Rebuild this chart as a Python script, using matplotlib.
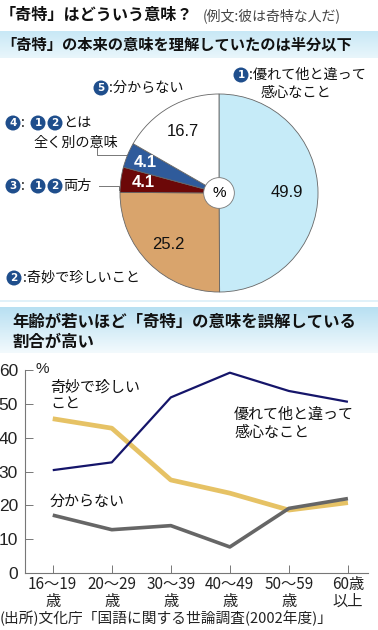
import matplotlib
matplotlib.use("Agg")
import matplotlib.pyplot as plt
import numpy as np
from matplotlib.colors import to_rgb
from matplotlib.patches import Circle

plt.rcParams['font.family'] = ['Noto Sans CJK JP', 'DejaVu Sans']

# pie data
pie_values = [49.9, 25.2, 4.1, 4.1, 16.7]
pie_colors = ['#c6ebf8', '#d9a46c', '#6c0808', '#2f5b9b', '#ffffff']
pie_value_colors = ['#111111', '#111111', '#ffffff', '#ffffff', '#111111']
pie_label_r = [0.69, 0.73, 0.77, 0.81, 0.72]

# line data
ages = ['16〜19\n歳', '20〜29\n歳', '30〜39\n歳', '40〜49\n歳', '50〜59\n歳', '60歳\n以上']
excellent = [30.4, 32.7, 51.9, 59.2, 53.8, 50.6]   # 優れて他と違って感心なこと
strange = [45.6, 42.8, 27.5, 23.6, 18.6, 20.8]     # 奇妙で珍しいこと
unknown = [17.1, 12.8, 14.0, 7.7, 19.1, 22.0]      # 分からない

W, H = 378, 630
fig = plt.figure(figsize=(W / 100, H / 100), dpi=100)

# background axes in pixel coordinates (y down)
bg = fig.add_axes([0, 0, 1, 1], zorder=0)
bg.set_xlim(0, W)
bg.set_ylim(H, 0)
bg.axis('off')


def band(y0, y1, c_top, c_bot):
    t = np.linspace(0, 1, 64)[:, None, None]
    img = (1 - t) * np.array(to_rgb(c_top)) + t * np.array(to_rgb(c_bot))
    img = np.repeat(img, 2, axis=1)
    bg.imshow(img, extent=(0, W, y1, y0), aspect='auto', zorder=0)


band(31, 58, '#c8e8f6', '#e9f6fb')
band(307, 353, '#b8e0f2', '#f3fafd')
bg.plot([0, W], [301, 301], color='#dceff8', lw=1.2, zorder=1)
bg.set_xlim(0, W)
bg.set_ylim(H, 0)

# titles
bg.text(0, 15, '「奇特」はどういう意味？', fontsize=11.6, fontweight='bold',
        color='#111111', va='center', ha='left')
bg.text(203, 16, '(例文:彼は奇特な人だ)', fontsize=10, color='#444444',
        va='center', ha='left')
bg.text(1, 45, '「奇特」の本来の意味を理解していたのは半分以下', fontsize=11,
        fontweight='bold', color='#111111', va='center', ha='left')
bg.text(12, 322, '年齢が若いほど「奇特」の意味を誤解している', fontsize=11.8,
        fontweight='bold', color='#111111', va='center', ha='left')
bg.text(12, 342, '割合が高い', fontsize=11.8,
        fontweight='bold', color='#111111', va='center', ha='left')
bg.text(0, 618, '(出所)文化庁「国語に関する世論調査(2002年度)」', fontsize=10.6,
        color='#222222', va='center', ha='left')


def badge(x, y, n):
    bg.text(x, y, str(n), fontsize=7.5, fontweight='bold', color='white',
            ha='center', va='center', family=['DejaVu Sans'],
            bbox=dict(boxstyle='circle,pad=0.24', fc='#1f4e8c', ec='none'))


lab_kw = dict(fontsize=10.2, color='#111111', va='center', ha='left')

# pie labels
badge(241, 75, 1)
bg.text(249, 75, ':優れて他と違って', **lab_kw)
bg.text(261, 93, '感心なこと', **lab_kw)
badge(101, 88, 5)
bg.text(109, 88, ':分からない', **lab_kw)
badge(13, 123, 4)
bg.text(21, 123, ':', **lab_kw)
badge(38, 123, 1)
badge(55, 123, 2)
bg.text(63, 123, 'とは', **lab_kw)
bg.text(33, 143, '全く別の意味', **lab_kw)
badge(13, 186, 3)
bg.text(21, 186, ':', **lab_kw)
badge(38, 186, 1)
badge(55, 186, 2)
bg.text(63, 186, '両方', **lab_kw)
badge(14, 278, 2)
bg.text(23, 278, ':奇妙で珍しいこと', **lab_kw)

# leader lines
bg.plot([97, 97, 128], [148, 155, 155], color='#777777', lw=0.7, zorder=1)
bg.plot([99, 119, 119], [186, 186, 190], color='#777777', lw=0.7, zorder=1)

# pie
pax = fig.add_axes([119 / W, 1 - 293 / H, 200 / W, 200 / H], zorder=2)
wedges, _ = pax.pie(pie_values, colors=pie_colors, startangle=90,
                    counterclock=False,
                    wedgeprops=dict(edgecolor='#666666', linewidth=0.6))
for w, v, c, r in zip(wedges, pie_values, pie_value_colors, pie_label_r):
    ang = np.deg2rad((w.theta1 + w.theta2) / 2)
    pax.text(r * np.cos(ang), r * np.sin(ang), f'{v:.1f}', color=c,
             fontsize=12, ha='center', va='center',
             fontweight='bold' if c == '#ffffff' else 'normal',
             family=['Liberation Sans', 'DejaVu Sans'])
pax.add_patch(Circle((0, 0), 0.155, fc='white', ec='#777777', lw=0.6, zorder=5))
pax.text(0, 0, '%', fontsize=11, ha='center', va='center', zorder=6,
         family=['Liberation Sans', 'DejaVu Sans'])
pax.set_xlim(-1.01, 1.01)
pax.set_ylim(-1.01, 1.01)

# line chart
lax = fig.add_axes([25 / W, 1 - 573 / H, 343 / W, 203 / H], zorder=2)
lax.patch.set_alpha(0)
x = np.arange(len(ages))
lax.plot(x, strange, color='#e6c265', lw=3.4, solid_capstyle='butt', zorder=2)
lax.plot(x, unknown, color='#666666', lw=2.6, solid_capstyle='butt', zorder=3)
lax.plot(x, excellent, color='#15156a', lw=1.6, solid_capstyle='butt', zorder=4)
lax.set_xlim(-0.47, 5.34)
lax.set_ylim(0, 60)
lax.set_yticks([0, 10, 20, 30, 40, 50, 60])
lax.set_xticks(x)
lax.set_xticklabels(ages, fontsize=11, color='#222222', linespacing=1.0)
lax.tick_params(axis='y', direction='in', length=6, width=0.7, color='#777777',
                labelsize=12.5, labelcolor='#222222', pad=5)
lax.tick_params(axis='x', direction='in', length=6, width=0.7, color='#777777', pad=2)
for lbl in lax.get_yticklabels():
    lbl.set_family(['Liberation Sans', 'DejaVu Sans'])
for s in ['top', 'right']:
    lax.spines[s].set_visible(False)
for s in ['left', 'bottom']:
    lax.spines[s].set_color('#777777')
    lax.spines[s].set_linewidth(0.8)

ann_kw = dict(fontsize=10.8, color='#111111', va='center', ha='left')
bg.text(36, 369, '%', fontsize=11, color='#222222', va='center', ha='left',
        family=['Liberation Sans', 'DejaVu Sans'])
bg.text(50, 387, '奇妙で珍しい', **ann_kw)
bg.text(50, 405, 'こと', **ann_kw)
bg.text(234, 415, '優れて他と違って', **ann_kw)
bg.text(234, 433, '感心なこと', **ann_kw)
bg.text(50, 502, '分からない', **ann_kw)

fig.savefig('out.png', dpi=100)
